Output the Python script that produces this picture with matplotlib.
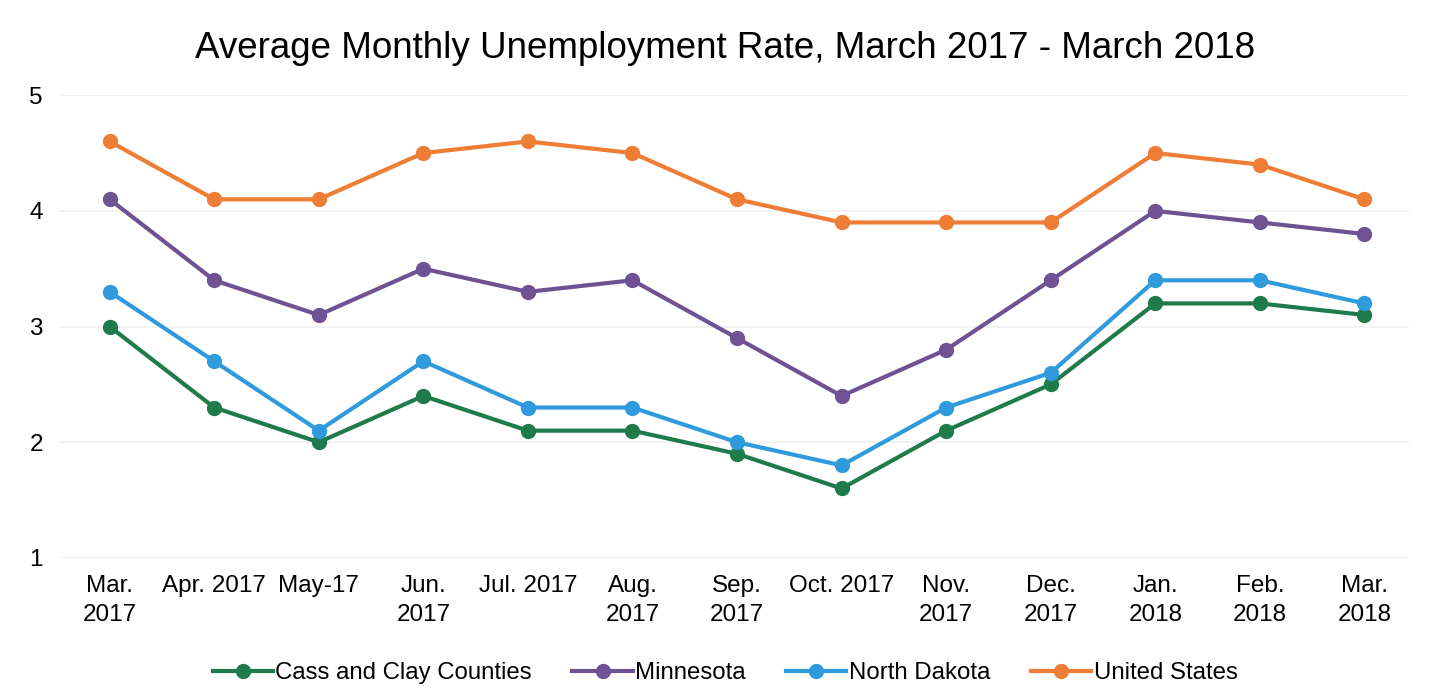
import matplotlib
matplotlib.use("Agg")
import matplotlib.pyplot as plt
import numpy as np

plt.rcParams['font.family'] = ['Liberation Sans', 'DejaVu Sans']

months = ['Mar.\n2017', 'Apr. 2017', 'May-17', 'Jun.\n2017', 'Jul. 2017', 'Aug.\n2017',
          'Sep.\n2017', 'Oct. 2017', 'Nov.\n2017', 'Dec.\n2017', 'Jan.\n2018', 'Feb.\n2018', 'Mar.\n2018']

cass_clay = [3.0, 2.3, 2.0, 2.4, 2.1, 2.1, 1.9, 1.6, 2.1, 2.5, 3.2, 3.2, 3.1]
minnesota = [4.1, 3.4, 3.1, 3.5, 3.3, 3.4, 2.9, 2.4, 2.8, 3.4, 4.0, 3.9, 3.8]
north_dakota = [3.3, 2.7, 2.1, 2.7, 2.3, 2.3, 2.0, 1.8, 2.3, 2.6, 3.4, 3.4, 3.2]
united_states = [4.6, 4.1, 4.1, 4.5, 4.6, 4.5, 4.1, 3.9, 3.9, 3.9, 4.5, 4.4, 4.1]

series = [
    ('Cass and Clay Counties', cass_clay, '#1f7a4c'),
    ('Minnesota', minnesota, '#6e5294'),
    ('North Dakota', north_dakota, '#2f9bdc'),
    ('United States', united_states, '#ee7d35'),
]

fig = plt.figure(figsize=(14.5, 7), dpi=100)
ax = fig.add_axes([0.041, 0.203, 0.931, 0.661])

x = np.arange(len(months))
for label, values, color in series:
    ax.plot(x, values, color=color, linewidth=3, marker='o', markersize=10, label=label)

ax.set_ylim(1, 5)
ax.set_xlim(-0.48, 12.43)
ax.set_yticks([1, 2, 3, 4, 5])
ax.set_xticks(x)
ax.set_xticklabels(months, fontsize=17.5, linespacing=1.45)
ax.tick_params(axis='y', labelsize=17.5, length=0, pad=12)
ax.tick_params(axis='x', length=0, pad=12)
ax.grid(axis='y', color='#f0f0f0', linewidth=1.2)
for s in ax.spines.values():
    s.set_visible(False)

fig.suptitle('Average Monthly Unemployment Rate, March 2017 - March 2018', fontsize=26.5, y=0.955)

fig.legend(loc='lower center', bbox_to_anchor=(0.5, -0.008), ncol=4, frameon=False,
           fontsize=17.3, handlelength=2.5, handletextpad=0.1, columnspacing=1.7)

fig.savefig('out.png', dpi=100)
